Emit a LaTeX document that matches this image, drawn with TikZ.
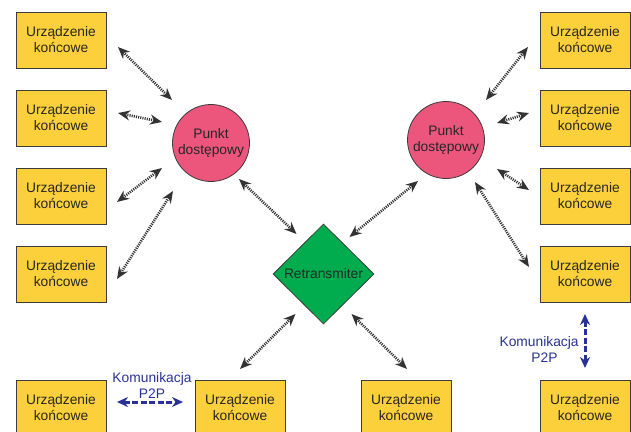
\documentclass[tikz,border=0pt]{standalone}
\usepackage{fontspec}
\setmainfont{Liberation Sans}
\usetikzlibrary{arrows.meta,shapes.geometric,calc}
\definecolor{boxyellow}{RGB}{252,208,58}
\definecolor{appink}{RGB}{236,86,124}
\definecolor{rtgreen}{RGB}{0,172,78}
\definecolor{ptpblue}{RGB}{40,50,150}
\definecolor{edge}{RGB}{60,60,60}
\tikzset{
  dev/.style={draw=edge, line width=0.8pt, fill=boxyellow, minimum width=90pt, minimum height=56pt, inner sep=0pt, align=center, font=\fontsize{13.8}{16}\selectfont, text=black!85},
  ap/.style={circle, draw=edge, line width=0.8pt, fill=appink, minimum size=77pt, inner sep=0pt, align=center, font=\fontsize{13.8}{16}\selectfont, text=black!85},
  rt/.style={diamond, draw=edge, line width=0.8pt, fill=rtgreen, minimum width=101pt, minimum height=100pt, inner sep=0pt, font=\fontsize{13.8}{16}\selectfont, text=black!85},
  link/.style={draw=black!80, line width=2.6pt, dash pattern=on 1.1pt off 1.1pt, {Stealth[length=12pt,width=10pt]}-{Stealth[length=12pt,width=10pt]}},
  ptp/.style={draw=ptpblue, line width=3pt, dash pattern=on 6pt off 2.5pt, {Stealth[length=11pt,width=10pt]}-{Stealth[length=11pt,width=10pt]}},
  ptplabel/.style={text=ptpblue, font=\fontsize{13.8}{16}\selectfont, inner sep=0pt},
}
\begin{document}
\begin{tikzpicture}[x=1pt,y=-1pt]
\useasboundingbox (0,0) rectangle (631,431);
\begin{scope}
\clip (0,0) rectangle (631,431);
% left column
\node[dev] (L1) at (61,40) {Urządzenie\\końcowe};
\node[dev] (L2) at (61,118) {Urządzenie\\końcowe};
\node[dev] (L3) at (61,196) {Urządzenie\\końcowe};
\node[dev] (L4) at (61,274) {Urządzenie\\końcowe};
% right column
\node[dev] (R1) at (585,40) {Urządzenie\\końcowe};
\node[dev] (R2) at (585,118) {Urządzenie\\końcowe};
\node[dev] (R3) at (585,196) {Urządzenie\\końcowe};
\node[dev] (R4) at (585,274) {Urządzenie\\końcowe};
% bottom row
\node[dev] (B1) at (61,408) {Urządzenie\\końcowe};
\node[dev] (B2) at (240,408) {Urządzenie\\końcowe};
\node[dev] (B3) at (406,408) {Urządzenie\\końcowe};
\node[dev] (B4) at (585,408) {Urządzenie\\końcowe};
\end{scope}
% access points
\node[ap] (APL) at (211,143) {Punkt\\dostępowy};
\node[ap] (APR) at (446,140) {Punkt\\dostępowy};
% retransmitter
\node[rt] (RT) at (323.5,274) {Retransmiter};
% links left
\draw[link] ($(L1.center)+(57,7)$) -- ($(APL.center)+(-39,-43)$);
\draw[link] ($(L2.center)+(57,-5)$) -- ($(APL.center)+(-49,-21)$);
\draw[link] ($(L3.center)+(56,6)$) -- ($(APL.center)+(-49,25)$);
\draw[link] ($(L4.center)+(56,5)$) -- ($(APL.center)+(-38,48)$);
\draw[link] ($(APL.center)+(28,36)$) -- ($(RT.center)+(-27,-40)$);
% links right
\draw[link] ($(R1.center)+(-57,7)$) -- ($(APR.center)+(40,-40)$);
\draw[link] ($(R2.center)+(-56,-5)$) -- ($(APR.center)+(51,-17)$);
\draw[link] ($(R3.center)+(-56,-6)$) -- ($(APR.center)+(51,29)$);
\draw[link] ($(R4.center)+(-56,-7)$) -- ($(APR.center)+(29,42)$);
\draw[link] ($(APR.center)+(-28,41)$) -- ($(RT.center)+(26,-37)$);
% links bottom
\draw[link] ($(RT.center)+(-28,40)$) -- ($(B2.center)+(0,-39)$);
\draw[link] ($(RT.center)+(28,40)$) -- ($(B3.center)+(1,-39)$);
% P2P
\draw[ptp] ($(B1.center)+(56,-6)$) -- ($(B2.center)+(-57,-6)$);
\node[ptplabel, align=center] (PL) at (152,385) {Komunikacja\\P2P};
\draw[ptp] ($(R4.center)+(0,40)$) -- ($(B4.center)+(0,-40)$);
\node[ptplabel, align=center, anchor=east] (PR) at (583,349) {Komunikacja\\\hphantom{Komu}P2P\hphantom{acja}};
\end{tikzpicture}
\end{document}
